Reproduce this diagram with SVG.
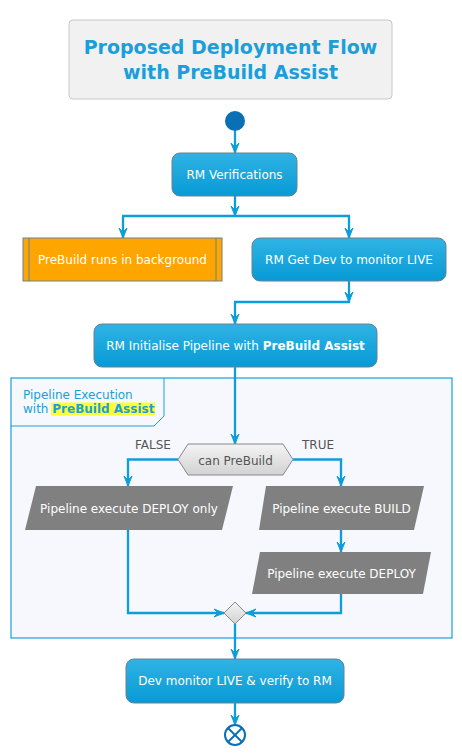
<svg xmlns="http://www.w3.org/2000/svg" width="462" height="755" viewBox="0 0 462 755">
<style>
text{font-family:"DejaVu Sans","Noto Sans",sans-serif;}
.t{font-size:12px;fill:#ffffff;text-anchor:middle;}
.box{fill:url(#gb);stroke:#6b8090;stroke-width:1;}
.par{fill:#808080;}
.ln{fill:none;stroke:#0c9ddb;stroke-width:2.3;}
.arr{fill:none;stroke:#0c9ddb;stroke-width:2.3;marker-end:url(#ah);}
.lbl{font-size:12px;fill:#555555;}
</style>
<defs>
<linearGradient id="gb" x1="0" y1="0" x2="0" y2="1"><stop offset="0" stop-color="#30b3e4"/><stop offset="1" stop-color="#079ad6"/></linearGradient>
<linearGradient id="gd" x1="0" y1="0" x2="0" y2="1"><stop offset="0" stop-color="#f4f4f4"/><stop offset="1" stop-color="#d2d2d2"/></linearGradient>
<marker id="ah" markerUnits="userSpaceOnUse" markerWidth="12" markerHeight="10" viewBox="0 0 12 10" refX="11" refY="5" orient="auto"><path d="M1,1 L11,5 L1,9 L5,5 Z" fill="#0c9ddb" stroke="#0c9ddb" stroke-width="1"/></marker>
</defs>

<g id="title">
<rect x="69" y="20" width="323" height="79" rx="4" fill="#f1f1f1" stroke="#c8c8c8" stroke-width="1"/>
<text x="230.5" y="54" font-size="19" font-weight="bold" fill="#1a9fdb" text-anchor="middle">Proposed Deployment Flow</text>
<text x="230.5" y="79" font-size="19" font-weight="bold" fill="#1a9fdb" text-anchor="middle">with PreBuild Assist</text>
</g>

<g id="partition">
<rect x="11" y="378" width="441" height="260" fill="#f6f8fd" stroke="#1a9fdb" stroke-width="1.2"/>
<path d="M11,426 L154,426 L164,416 L164,378" fill="none" stroke="#1a9fdb" stroke-width="1"/>
<rect x="51" y="402.5" width="104" height="13" fill="#ffff33"/>
<text x="23" y="399" font-size="12" fill="#1a9fdb">Pipeline Execution</text>
<text x="23" y="413" font-size="12" fill="#1a9fdb">with <tspan font-weight="bold">PreBuild Assist</tspan></text>
</g>

<g id="connectors">
<line class="arr" x1="235" y1="131" x2="235" y2="153"/>
<line class="arr" x1="235" y1="196" x2="235" y2="216"/>
<line class="ln" x1="122" y1="216" x2="350" y2="216"/>
<line class="arr" x1="123" y1="216" x2="123" y2="238"/>
<line class="arr" x1="349" y1="216" x2="349" y2="238"/>
<line class="arr" x1="349" y1="281" x2="349" y2="302"/>
<line class="ln" x1="234" y1="302" x2="350" y2="302"/>
<line class="arr" x1="235" y1="302" x2="235" y2="324"/>
<line class="arr" x1="235" y1="367" x2="235" y2="444"/>
<polyline class="arr" points="178,459.5 128,459.5 128,486"/>
<polyline class="arr" points="293,459.5 341,459.5 341,486"/>
<line class="arr" x1="341" y1="530" x2="341" y2="552"/>
<polyline class="arr" points="128,530 128,613 224,613"/>
<polyline class="arr" points="341,594 341,613 246,613"/>
<line class="arr" x1="235" y1="624" x2="235" y2="659"/>
<line class="arr" x1="235" y1="703" x2="235" y2="725"/>
</g>

<g id="start"><circle cx="235" cy="121" r="10" fill="#0b6fb5"/></g>

<g id="rm-verifications">
<rect class="box" x="172" y="153" width="125" height="43" rx="8"/>
<text class="t" x="234.5" y="179">RM Verifications</text>
</g>

<g id="prebuild-bg">
<rect x="23" y="238" width="199" height="43" fill="#ffa500" stroke="#6b8090" stroke-width="1"/>
<line x1="29" y1="238" x2="29" y2="281" stroke="#6b8090" stroke-width="1"/>
<line x1="216" y1="238" x2="216" y2="281" stroke="#6b8090" stroke-width="1"/>
<text class="t" x="122.5" y="264">PreBuild runs in background</text>
</g>

<g id="rm-get-dev">
<rect class="box" x="252" y="238" width="194" height="43" rx="8"/>
<text class="t" x="349" y="264">RM Get Dev to monitor LIVE</text>
</g>

<g id="rm-init">
<rect class="box" x="94" y="324" width="283" height="43" rx="8"/>
<text class="t" x="235.5" y="350">RM Initialise Pipeline with <tspan font-weight="bold">PreBuild Assist</tspan></text>
</g>

<g id="decision">
<polygon points="178,459.5 188,444 283,444 293,459.5 283,475 188,475" fill="url(#gd)" stroke="#888888" stroke-width="1"/>
<text x="235.5" y="465" font-size="12" fill="#555555" text-anchor="middle">can PreBuild</text>
<text class="lbl" x="135" y="449">FALSE</text>
<text class="lbl" x="302" y="449">TRUE</text>
</g>

<g id="deploy-only">
<polygon class="par" points="36,486 233,486 222,530 25,530"/>
<text class="t" x="129" y="513">Pipeline execute DEPLOY only</text>
</g>

<g id="exec-build">
<polygon class="par" points="266,486 424,486 414,530 259,530"/>
<text class="t" x="341.5" y="513">Pipeline execute BUILD</text>
</g>

<g id="exec-deploy">
<polygon class="par" points="260,552 431,552 423,594 252,594"/>
<text class="t" x="341.5" y="578">Pipeline execute DEPLOY</text>
</g>

<g id="merge">
<polygon points="235,602 246,613 235,624 224,613" fill="url(#gd)" stroke="#888888" stroke-width="1"/>
</g>

<g id="dev-monitor">
<rect class="box" x="126" y="659" width="218" height="44" rx="8"/>
<text class="t" x="235" y="685">Dev monitor LIVE &amp; verify to RM</text>
</g>

<g id="end">
<circle cx="235" cy="735" r="10" fill="#ffffff" stroke="#0b6fb5" stroke-width="2"/>
<line x1="228" y1="728" x2="242" y2="742" stroke="#0b6fb5" stroke-width="2"/>
<line x1="242" y1="728" x2="228" y2="742" stroke="#0b6fb5" stroke-width="2"/>
</g>
</svg>
